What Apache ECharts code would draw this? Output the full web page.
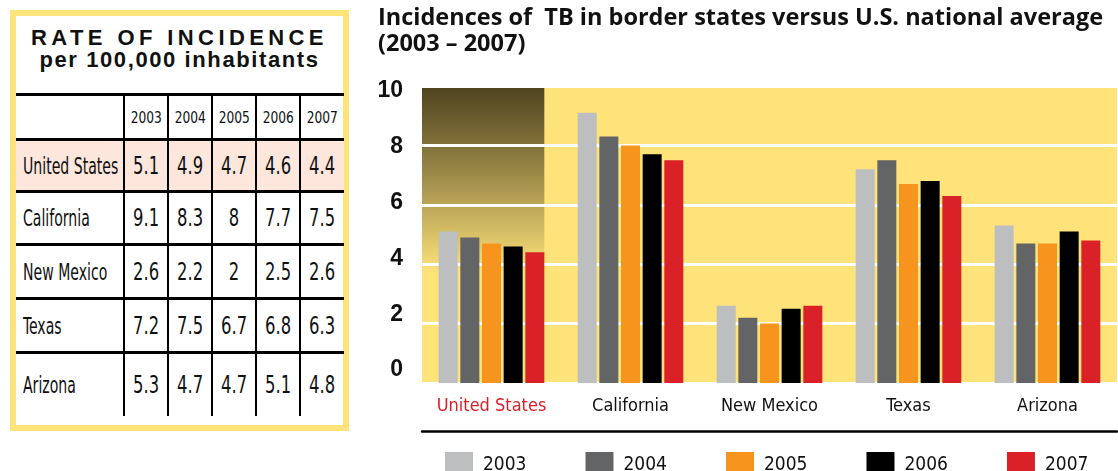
<!DOCTYPE html>
<html>
<head>
<meta charset="utf-8">
<title>TB incidence</title>
<script src="https://cdn.jsdelivr.net/npm/echarts@6/dist/echarts.min.js"></script>
<style>
  html, body { margin: 0; padding: 0; background: #fff; }
  #wrap { position: relative; width: 1118px; height: 471px; overflow: hidden; }
  #chart { position: absolute; left: 0; top: 0; width: 1118px; height: 471px; }
  #rateBox {
    position: absolute; left: 10px; top: 10px;
    width: 327px; height: 409px;
    border: 6px solid #fee37a; background: #fff;
  }
  #rateBox .head1 {
    position: absolute; left: 0; width: 327px; top: 9px; text-align: center;
    font: bold 22px 'Liberation Sans', Arial, sans-serif; letter-spacing: 4.4px; color: #111;
  }
  #rateBox .head2 {
    position: absolute; left: 0; width: 327px; top: 31px; text-align: center;
    font: bold 22px 'Liberation Sans', Arial, sans-serif; letter-spacing: 1.6px; color: #111;
  }
  #rateTable {
    position: absolute; left: 0; top: 77px; width: 327px;
    border-collapse: collapse; table-layout: fixed;
    font-family: 'DejaVu Sans Condensed', 'DejaVu Sans', sans-serif; color: #111;
  }
  #rateTable td { border-top: 3px solid #000; padding: 0; text-align: center; white-space: nowrap; }
  #rateTable td + td { border-left: 2.5px solid #000; }
  #rateTable td span { display: inline-block; font-size: 24px; transform: scaleX(0.76); }
  #rateTable tr.yearRow td { height: 42px; }
  #rateTable tr.yearRow td span { font-size: 16px; transform: scaleX(0.85); }
  #rateTable tr.us td { background: #fde6dc; }
  #rateTable td.place { text-align: left; padding-left: 7px; }
  #rateTable td.place span { font-size: 23px; transform: scaleX(0.68); transform-origin: left center; }
</style>
</head>
<body>
<div id="wrap">
  <div id="chart"></div>
  <div id="rateBox">
    <div class="head1">RATE OF INCIDENCE</div>
    <div class="head2">per 100,000 inhabitants</div>
    <table id="rateTable"></table>
  </div>
</div>
<script>
// data
const years = ['2003', '2004', '2005', '2006', '2007'];
const places = ['United States', 'California', 'New Mexico', 'Texas', 'Arizona'];
const rate2003 = [5.1, 9.1, 2.6, 7.2, 5.3];
const rate2004 = [4.9, 8.3, 2.2, 7.5, 4.7];
const rate2005 = [4.7, 8, 2, 6.7, 4.7];
const rate2006 = [4.6, 7.7, 2.5, 6.8, 5.1];
const rate2007 = [4.4, 7.5, 2.6, 6.3, 4.8];
const yTicks = [0, 2, 4, 6, 8, 10];

const rates = [rate2003, rate2004, rate2005, rate2006, rate2007];
const barColors = ['#bcbec0', '#636466', '#f7941d', '#000000', '#da2128'];
const condensed = 'DejaVu Sans Condensed';

// left table, filled from the same arrays
const rowHeights = [52, 53, 54, 54, 63];
let html = '<colgroup><col style="width:108px">' +
  years.map(() => '<col style="width:44px">').join('') + '</colgroup>';
html += '<tr class="yearRow"><td></td>' + years.map(y => '<td><span>' + y + '</span></td>').join('') + '</tr>';
places.forEach((p, r) => {
  html += '<tr class="' + (r === 0 ? 'us' : '') + '" style="height:' + rowHeights[r] + 'px">' +
    '<td class="place"><span>' + p + '</span></td>' +
    rates.map(list => '<td><span>' + list[r] + '</span></td>').join('') + '</tr>';
});
document.getElementById('rateTable').innerHTML = html;

// chart
const gridLeft = 422;
const barW = 19;
const barGapRatio = 0.14;
const chart = echarts.init(document.getElementById('chart'));

const option = {
  animation: false,
  title: {
    text: 'Incidences of  TB in border states versus U.S. national average\n(2003 – 2007)',
    left: 373,
    top: 0,
    textStyle: {
      fontFamily: 'Open Sans',
      fontSize: 23.5,
      fontWeight: 'bold',
      lineHeight: 26,
      color: '#111'
    }
  },
  legend: {
    data: years,
    left: 440,
    top: 447,
    itemWidth: 28,
    itemHeight: 26,
    itemGap: 59,
    icon: 'rect',
    textStyle: {
      fontFamily: condensed,
      fontSize: 19,
      color: '#111',
      padding: [0, 0, 0, 5]
    }
  },
  grid: {
    left: gridLeft,
    right: 1,
    top: 86,
    bottom: 88,
    show: true,
    backgroundColor: '#fee37a',
    borderWidth: 0
  },
  xAxis: [
    {
      type: 'category',
      data: places,
      axisLine: { show: false, onZero: false },
      axisTick: { show: false },
      axisLabel: {
        interval: 0,
        margin: 14,
        fontFamily: condensed,
        fontSize: 18,
        color: function (value, idx) {
          return idx === 0 ? '#da2128' : '#111';
        }
      }
    },
    {
      // the black rule under the place names
      type: 'category',
      data: places,
      position: 'bottom',
      offset: 48,
      axisLine: { show: true, onZero: false, lineStyle: { color: '#000', width: 2.5 } },
      axisTick: { show: false },
      axisLabel: { show: false }
    }
  ],
  yAxis: [
    {
      type: 'value',
      min: 0,
      max: 10,
      interval: 2,
      z: 2,
      axisLine: { show: false },
      axisTick: { show: false },
      axisLabel: { show: false },
      splitLine: { show: true, lineStyle: { color: '#fff', width: 3 } }
    },
    {
      // labels only; they sit a bit off the gridlines in the original
      type: 'value',
      position: 'left',
      min: -0.466,
      max: 10.179,
      axisLine: { show: false },
      axisTick: { show: false },
      splitLine: { show: false },
      axisLabel: {
        customValues: yTicks,
        margin: 19,
        fontFamily: 'Liberation Sans',
        fontSize: 23,
        fontWeight: 'bold',
        color: '#111'
      }
    }
  ],
  series: years.map((y, i) => ({
    name: y,
    type: 'bar',
    z: 3,
    data: rates[i],
    barWidth: barW,
    barGap: (barGapRatio * 100) + '%',
    itemStyle: { color: barColors[i] }
  }))
};

chart.setOption(option);

// dark fade behind the United States group
const usCenter = chart.convertToPixel({ xAxisIndex: 0 }, places[0]);
const topY = chart.convertToPixel({ yAxisIndex: 0 }, 10);
const fadeY = chart.convertToPixel({ yAxisIndex: 0 }, 3.7);
const groupHalf = (years.length * barW + (years.length - 1) * barW * barGapRatio) / 2;
chart.setOption({
  graphic: [{
    type: 'rect',
    z: 1,
    silent: true,
    shape: { x: gridLeft, y: topY, width: usCenter + groupHalf - gridLeft, height: fadeY - topY },
    style: {
      fill: new echarts.graphic.LinearGradient(0, 0, 0, 1, [
        { offset: 0, color: '#4d421f' },
        { offset: 0.45, color: '#988646' },
        { offset: 1, color: '#fee37a' }
      ])
    }
  }]
});
</script>
</body>
</html>
